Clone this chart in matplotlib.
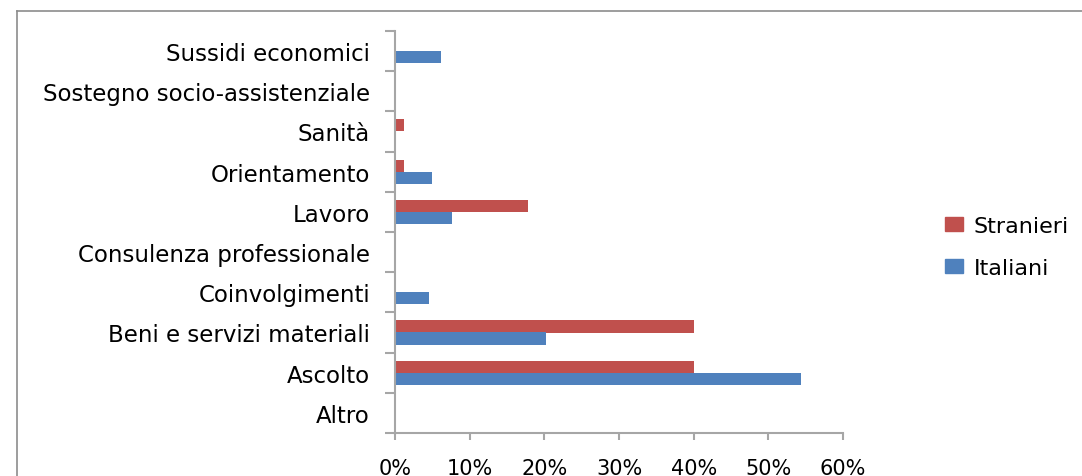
import matplotlib.pyplot as plt
from matplotlib.lines import Line2D
from matplotlib.ticker import FixedLocator, PercentFormatter

# categories bottom -> top, as they appear on the axis
categories = ["Altro", "Ascolto", "Beni e servizi materiali", "Coinvolgimenti",
              "Consulenza professionale", "Lavoro", "Orientamento", "Sanità",
              "Sostegno socio-assistenziale", "Sussidi economici"]
stranieri = [0, 40.0, 40.0, 0, 0, 17.8, 1.25, 1.25, 0, 0]
italiani = [0, 54.4, 20.2, 4.6, 0, 7.7, 4.9, 0, 0, 6.1]
x_ticks = [0, 10, 20, 30, 40, 50, 60]

red = "#C0504D"
blue = "#4F81BD"
axis_grey = "#A6A6A6"
font_size = 15

fig = plt.figure(figsize=(10.82, 4.77), dpi=100)
ax = fig.add_axes([395 / 1082, 1 - 434 / 477, (843 - 395) / 1082, (434 - 32) / 477])

pos = list(range(len(categories)))
h = 0.3
ax.barh([p + h / 2 for p in pos], stranieri, height=h, color=red, label="Stranieri")
ax.barh([p - h / 2 for p in pos], italiani, height=h, color=blue, label="Italiani")

ax.set_xlim(0, 60)
ax.set_ylim(-0.5, len(categories) - 0.5)
ax.set_xticks(x_ticks)
ax.xaxis.set_major_formatter(PercentFormatter(decimals=0))
ax.set_yticks(pos)
ax.set_yticklabels(categories)
ax.yaxis.set_minor_locator(FixedLocator([p - 0.5 for p in pos] + [len(pos) - 0.5]))

ax.tick_params(axis="y", which="major", length=0, pad=18, labelsize=16.5)
ax.tick_params(axis="y", which="minor", length=7, width=1.5, color=axis_grey)
ax.tick_params(axis="x", which="major", length=5, width=1.5, color=axis_grey,
               pad=13, labelsize=font_size)

for side in ["top", "right"]:
    ax.spines[side].set_visible(False)
for side in ["left", "bottom"]:
    ax.spines[side].set_color(axis_grey)
    ax.spines[side].set_linewidth(1.5)

fig.legend(handles=[plt.Rectangle((0, 0), 1, 1, color=red),
                    plt.Rectangle((0, 0), 1, 1, color=blue)],
           labels=["Stranieri", "Italiani"], loc="center left",
           bbox_to_anchor=(925 / 1082, 1 - 248 / 477), frameon=False,
           fontsize=16, handlelength=0.8, handleheight=0.6,
           handletextpad=0.5, labelspacing=1.0)

# outer chart border (cropped in the original)
bx = 17 / 1082
by = 1 - 12 / 477
fig.add_artist(Line2D([bx, bx], [0, by], color="#8C8C8C", lw=1.2, transform=fig.transFigure))
fig.add_artist(Line2D([bx, 1], [by, by], color="#8C8C8C", lw=1.2, transform=fig.transFigure))

fig.savefig("out.png", dpi=100)
